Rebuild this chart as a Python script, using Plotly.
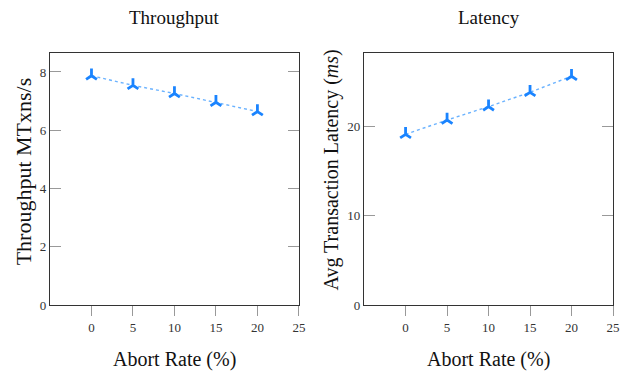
import plotly.graph_objects as go
from plotly.subplots import make_subplots

abort_rate = [0, 5, 10, 15, 20]
throughput = [7.87, 7.54, 7.26, 6.96, 6.64]
latency = [19.1, 20.7, 22.2, 23.8, 25.6]

x_ticks = [0, 5, 10, 15, 20, 25]
thr_ticks = [0, 2, 4, 6, 8]
lat_ticks = [0, 10, 20]

W, H = 628, 372
ML, MR, MT, MB = 50, 8, 53, 67
PW = W - ML - MR
PH = H - MT - MB

def px(x):
    return (x - ML) / PW

def py(y):
    return (H - MB - y) / PH

FONT = "Liberation Serif"
MARK = "#1a84ff"
LINE = "#6ab2ff"

fig = make_subplots(rows=1, cols=2)

for col, vals in [(1, throughput), (2, latency)]:
    fig.add_trace(go.Scatter(
        x=abort_rate, y=vals, mode="lines+markers",
        line=dict(color=LINE, width=1.4, dash="dot"),
        marker=dict(symbol="y-up", size=9, color=MARK,
                    line=dict(color=MARK, width=2.8)),
        showlegend=False), row=1, col=col)

xcommon = dict(range=[-5, 25], tickvals=x_ticks, ticks="outside", ticklen=10,
               tickcolor="#999999", tickwidth=1.2, showline=True, linecolor="#333333",
               linewidth=1.3, mirror=True, showgrid=False, zeroline=False,
               tickfont=dict(family=FONT, size=13, color="#333333"))
ycommon = dict(ticks="inside", ticklen=11, tickcolor="#999999", tickwidth=1.2,
               showline=True, linecolor="#333333", linewidth=1.3, mirror="ticks",
               showgrid=False, zeroline=False,
               tickfont=dict(family=FONT, size=13, color="#333333"))

fig.update_layout(
    width=W, height=H, margin=dict(l=ML, r=MR, t=MT, b=MB),
    plot_bgcolor="white", paper_bgcolor="white",
    font=dict(family=FONT),
    xaxis=dict(domain=[0, px(302)], **xcommon),
    xaxis2=dict(domain=[px(368), 1], **xcommon),
    yaxis=dict(range=[0, 8.65], tickvals=thr_ticks, **ycommon),
    yaxis2=dict(range=[0, 28.2], tickvals=lat_ticks, **ycommon),
)

ann = [
    dict(text="Throughput", x=px(176), y=py(17), size=19, angle=0),
    dict(text="Latency", x=px(494), y=py(17), size=19, angle=0),
    dict(text="Abort Rate (%)", x=px(176), y=py(359), size=20, angle=0),
    dict(text="Abort Rate (%)", x=px(494), y=py(359), size=20, angle=0),
    dict(text="Throughput MTxns/s", x=px(23), y=py(171), size=22, angle=-90),
    dict(text="Avg Transaction Latency (<i>ms</i>)", x=px(334), y=py(170), size=20, angle=-90),
]
for a in ann:
    fig.add_annotation(text=a["text"], xref="paper", yref="paper", x=a["x"], y=a["y"],
                       xanchor="center", yanchor="middle", textangle=a["angle"],
                       showarrow=False, font=dict(family=FONT, size=a["size"], color="#111111"))

fig.write_html("out.html", config={"displayModeBar": False},
               post_script="document.body.style.margin='0';document.body.style.overflow='hidden';")
